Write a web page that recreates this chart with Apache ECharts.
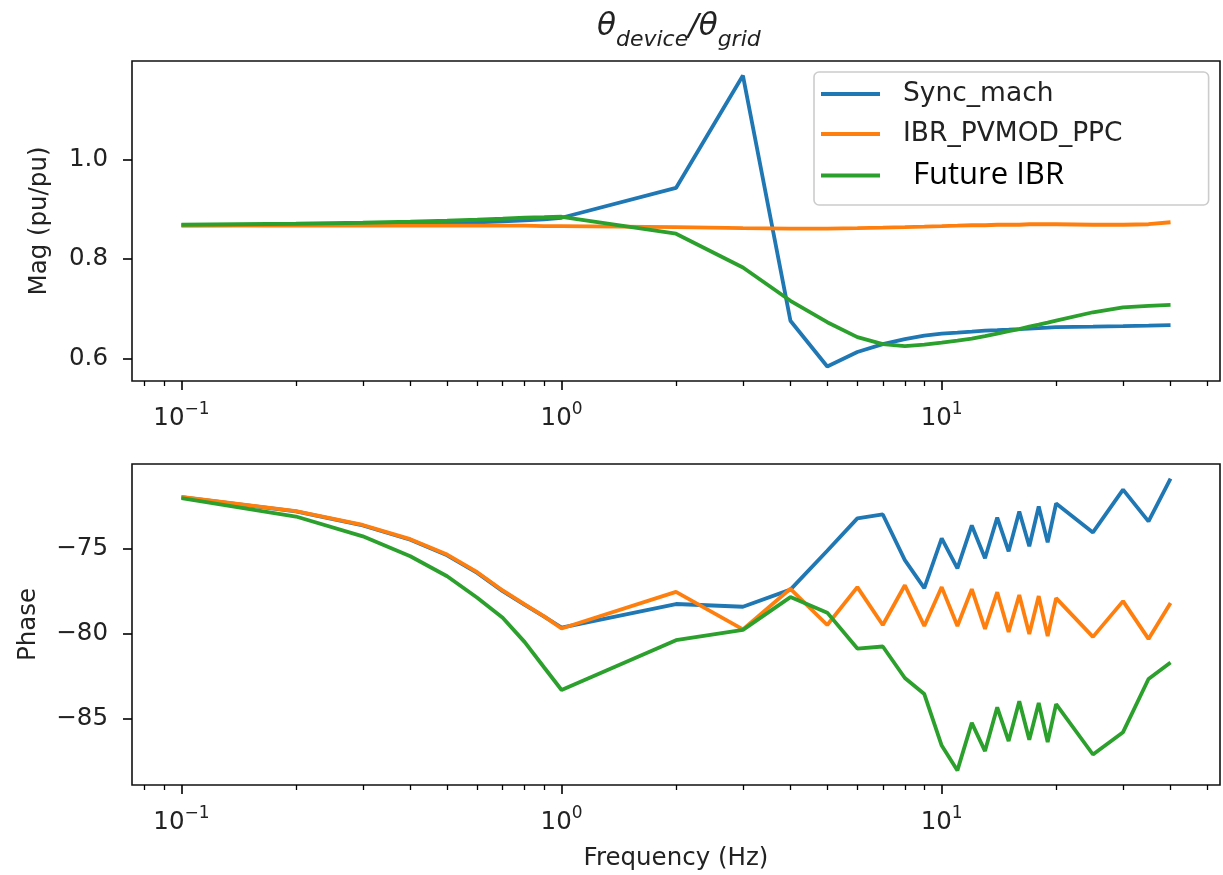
<!DOCTYPE html>
<html>
<head>
<meta charset="utf-8">
<script src="https://cdn.jsdelivr.net/npm/echarts@6/dist/echarts.min.js"></script>
<style>
  html, body { margin: 0; padding: 0; background: #fff; }
  #chart { width: 1223px; height: 875px; }
</style>
</head>
<body>
<div id="chart"></div>
<script>
// Frequency points of the sweep (Hz)
const freq = [0.1, 0.2, 0.3, 0.4, 0.5, 0.6, 0.7, 0.8, 0.9,
  1, 2, 3, 4, 5, 6, 7, 8, 9, 10, 11, 12, 13, 14, 15, 16, 17, 18, 19, 20,
  25, 30, 35, 40];

// Magnitude of theta_device / theta_grid (pu/pu)
const magSync = [0.868, 0.869, 0.870, 0.871, 0.873, 0.874, 0.876, 0.878, 0.880,
  0.883, 0.943, 1.169, 0.676, 0.584, 0.613, 0.629, 0.639, 0.646, 0.650,
  0.652, 0.654, 0.656, 0.657, 0.658, 0.659, 0.660, 0.661, 0.662, 0.663,
  0.664, 0.665, 0.666, 0.667];
const magPv = [0.867, 0.867, 0.867, 0.867, 0.867, 0.867, 0.867, 0.867, 0.866,
  0.866, 0.864, 0.862, 0.861, 0.861, 0.862, 0.863, 0.864, 0.865, 0.866,
  0.867, 0.868, 0.868, 0.869, 0.869, 0.869, 0.870, 0.870, 0.870, 0.870,
  0.869, 0.869, 0.870, 0.874];
const magFuture = [0.869, 0.871, 0.873, 0.875, 0.877, 0.879, 0.881, 0.883, 0.884,
  0.885, 0.851, 0.783, 0.716, 0.673, 0.643, 0.629, 0.625, 0.628, 0.632,
  0.636, 0.640, 0.645, 0.650, 0.655, 0.659, 0.664, 0.668, 0.672, 0.676,
  0.693, 0.703, 0.706, 0.708];

// Phase (degrees)
const phaseSync = [-71.94, -72.78, -73.61, -74.45, -75.37, -76.41, -77.49, -78.30, -79.00,
  -79.65, -78.25, -78.41, -77.40, -75.10, -73.19, -72.96, -75.66, -77.31, -74.37,
  -76.14, -73.61, -75.55, -73.14, -75.14, -72.78, -74.84, -72.49, -74.61, -72.31,
  -74.02, -71.49, -73.37, -70.84];
const phasePv = [-71.92, -72.76, -73.58, -74.42, -75.33, -76.37, -77.45, -78.27, -78.98,
  -79.70, -77.53, -79.75, -77.35, -79.49, -77.25, -79.49, -77.14, -79.55, -77.25,
  -79.55, -77.37, -79.72, -77.55, -79.90, -77.72, -80.02, -77.78, -80.14, -77.90,
  -80.19, -78.08, -80.31, -78.19];
const phaseFuture = [-72.00, -73.08, -74.25, -75.43, -76.61, -77.88, -79.06, -80.50, -82.00,
  -83.33, -80.39, -79.78, -77.84, -78.76, -80.88, -80.76, -82.62, -83.57, -86.61,
  -88.08, -85.27, -86.94, -84.35, -86.35, -84.00, -86.27, -84.10, -86.41, -84.16,
  -87.14, -85.82, -82.68, -81.70];

// Series names and tick positions
const seriesNames = ['Sync_mach', 'IBR_PVMOD_PPC', 'Future IBR'];
const colors = ['#1f77b4', '#ff7f0e', '#2ca02c'];
const xMajorTicks = [0.1, 1, 10];
const xMinorTicks = [0.08, 0.09, 0.2, 0.3, 0.4, 0.5, 0.6, 0.7, 0.8, 0.9,
  2, 3, 4, 5, 6, 7, 8, 9, 20, 30, 40, 50];
const magTicks = [0.6, 0.8, 1.0];
const phaseTicks = [-85, -80, -75];

// axis extents with a 5% margin around the data
function linExtent(arrays) {
  const all = [].concat(...arrays);
  const lo = Math.min(...all), hi = Math.max(...all);
  const m = (hi - lo) * 0.05;
  return [lo - m, hi + m];
}
function logExtent(values) {
  const lo = Math.log10(Math.min(...values)), hi = Math.log10(Math.max(...values));
  const m = (hi - lo) * 0.05;
  return [Math.pow(10, lo - m), Math.pow(10, hi + m)];
}
const xExt = logExtent(freq);
const magExt = linExtent([magSync, magPv, magFuture]);
const phaseExt = linExtent([phaseSync, phasePv, phaseFuture]);

const TXT = '#222';
const FONT = 'DejaVu Sans';
function powLabel(v) {
  const e = Math.round(Math.log10(v));
  const s = String(e).replace('-', '\u2212');
  return '{b|10}{e|' + s + '}';
}

function majorX(gridIndex, withName) {
  return {
    type: 'log', logBase: 10, gridIndex: gridIndex, position: 'bottom',
    min: xExt[0], max: xExt[1],
    axisLine: { show: false },
    splitLine: { show: false },
    axisTick: { show: true, customValues: xMajorTicks, length: 9,
      lineStyle: { color: '#000', width: 1.6 } },
    axisLabel: {
      show: true, customValues: xMajorTicks, margin: 20,
      formatter: powLabel,
      rich: {
        b: { fontSize: 24.5, fontFamily: FONT, color: TXT, lineHeight: 30, verticalAlign: 'bottom' },
        e: { fontSize: 17, fontFamily: FONT, color: TXT, lineHeight: 17, verticalAlign: 'top' }
      }
    },
    name: withName ? 'Frequency (Hz)' : '',
    nameLocation: 'middle', nameGap: 61,
    nameTextStyle: { fontSize: 24.5, fontFamily: FONT, color: TXT }
  };
}
function minorX(gridIndex) {
  return {
    type: 'log', logBase: 10, gridIndex: gridIndex, position: 'bottom',
    min: xExt[0], max: xExt[1],
    axisLine: { show: false },
    splitLine: { show: false },
    axisLabel: { show: false },
    axisTick: { show: true, customValues: xMinorTicks, length: 5,
      lineStyle: { color: '#000', width: 1.3 } }
  };
}
function yAxisDef(gridIndex, ext, ticks, fmt, name, gap) {
  return {
    type: 'value', gridIndex: gridIndex, min: ext[0], max: ext[1],
    axisLine: { show: false },
    splitLine: { show: false },
    axisTick: { show: true, customValues: ticks, length: 9,
      lineStyle: { color: '#000', width: 1.6 } },
    axisLabel: { customValues: ticks, formatter: fmt, margin: 24,
      fontSize: 24.5, fontFamily: FONT, color: TXT },
    name: name, nameLocation: 'middle', nameGap: gap,
    nameTextStyle: { fontSize: 24.5, fontFamily: FONT, color: TXT }
  };
}

function lineSeries(idx, xi, yi, values) {
  return {
    name: seriesNames[idx], type: 'line',
    xAxisIndex: xi, yAxisIndex: yi,
    data: freq.map((f, i) => [f, values[i]]),
    symbol: 'none', showSymbol: false,
    lineStyle: { color: colors[idx], width: 3.8 },
    itemStyle: { color: colors[idx] },
    emphasis: { disabled: true },
    animation: false
  };
}

const chart = echarts.init(document.getElementById('chart'), null, { renderer: 'canvas' });
chart.setOption({
  backgroundColor: '#fff',
  animation: false,
  title: {
    text: '{t|\u03b8}{s|device}{t|/\u03b8}{s|grid}',
    left: 592, top: 6,
    textStyle: {
      fontWeight: 'normal',
      rich: {
        t: { fontSize: 31, fontFamily: FONT, fontStyle: 'italic', fontWeight: 'normal', color: TXT, lineHeight: 40, verticalAlign: 'top' },
        s: { fontSize: 22, fontFamily: FONT, fontStyle: 'italic', fontWeight: 'normal', color: TXT, lineHeight: 22, verticalAlign: 'bottom' }
      }
    }
  },
  legend: {
    orient: 'vertical', left: 814, top: 72,
    padding: [8, 86, 14, 7],
    icon: 'rect',
    itemWidth: 59, itemHeight: 4, itemGap: 12,
    backgroundColor: 'rgba(255,255,255,0.8)',
    borderColor: '#cccccc', borderWidth: 1.6, borderRadius: 5,
    textStyle: { fontSize: 26.5, fontFamily: FONT, color: TXT, lineHeight: 28, padding: [0, 0, 0, 18] },
    data: [
      { name: seriesNames[0] },
      { name: seriesNames[1] },
      { name: seriesNames[2], textStyle: { fontSize: 31, fontFamily: 'Open Sans', color: '#000', lineHeight: 28, padding: [0, 0, 0, 28] } }
    ],
    z: 10
  },
  grid: [
    { left: 132, right: 3, top: 61, height: 320, show: true, borderColor: '#111', borderWidth: 1.6, backgroundColor: 'transparent' },
    { left: 132, right: 3, top: 464, height: 321, show: true, borderColor: '#111', borderWidth: 1.6, backgroundColor: 'transparent' }
  ],
  xAxis: [majorX(0, false), minorX(0), majorX(1, true), minorX(1)],
  yAxis: [
    yAxisDef(0, magExt, magTicks, v => v.toFixed(1), 'Mag (pu/pu)', 80),
    yAxisDef(1, phaseExt, phaseTicks, v => String(Math.round(v)).replace('-', '\u2212'), 'Phase', 91)
  ],
  series: [
    lineSeries(0, 0, 0, magSync),
    lineSeries(1, 0, 0, magPv),
    lineSeries(2, 0, 0, magFuture),
    lineSeries(0, 2, 1, phaseSync),
    lineSeries(1, 2, 1, phasePv),
    lineSeries(2, 2, 1, phaseFuture)
  ]
});
</script>
</body>
</html>
